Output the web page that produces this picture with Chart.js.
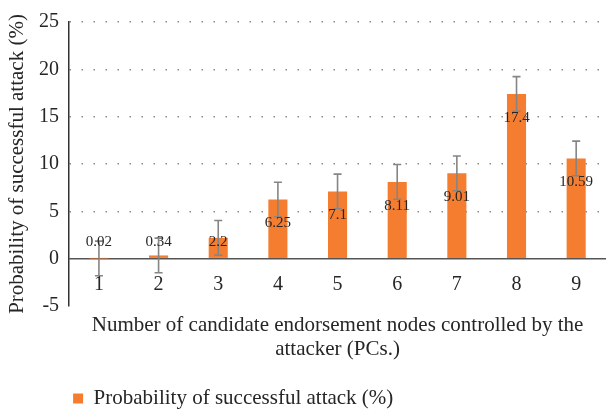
<!DOCTYPE html>
<html>
<head>
<meta charset="utf-8">
<script src="https://cdn.jsdelivr.net/npm/chart.js@4/dist/chart.umd.min.js"></script>
<style>
html,body{margin:0;padding:0;background:#fff;overflow:hidden;}
#wrap{width:606px;height:411px;}
</style>
</head>
<body>
<div id="wrap"><canvas id="c" width="606" height="411"></canvas></div>
<script>
const categories = ['1', '2', '3', '4', '5', '6', '7', '8', '9'];
const probability = [0.02, 0.34, 2.2, 6.25, 7.1, 8.11, 9.01, 17.4, 10.59];
const errorMargins = [1.83, 1.83, 1.83, 1.83, 1.83, 1.83, 1.83, 1.83, 1.83];
const yTicks = [-5, 0, 5, 10, 15, 20, 25];
const seriesName = 'Probability of successful attack (%)';
const xTitle = ['Number of candidate endorsement nodes controlled by the', 'attacker (PCs.)'];
const yTitle = 'Probability of successful attack (%)';

const FONT = "'Liberation Serif', 'DejaVu Serif', serif";
const TEXT = '#262626';
const ORANGE = 'rgb(244,125,48)';

const zeroLine = {
  id: 'zeroLine',
  beforeDatasetsDraw(chart) {
    const {ctx, chartArea, scales} = chart;
    const y = scales.y.getPixelForValue(0);
    ctx.save();
    ctx.strokeStyle = '#555';
    ctx.lineWidth = 1.5;
    ctx.beginPath();
    ctx.moveTo(chartArea.left, y);
    ctx.lineTo(chartArea.right, y);
    ctx.stroke();
    ctx.restore();
  }
};

// category labels sit just below the zero line (Excel style axis crossing at 0)
const categoryLabels = {
  id: 'categoryLabels',
  afterDraw(chart) {
    const {ctx, scales} = chart;
    const y0 = scales.y.getPixelForValue(0);
    ctx.save();
    ctx.fillStyle = TEXT;
    ctx.font = "20px " + FONT;
    ctx.textAlign = 'center';
    ctx.textBaseline = 'middle';
    categories.forEach((c, i) => {
      ctx.fillText(c, scales.x.getPixelForValue(i), y0 + 26);
    });
    ctx.restore();
  }
};

const errorBarsAndLabels = {
  id: 'errorBarsAndLabels',
  afterDatasetsDraw(chart) {
    const {ctx, scales} = chart;
    const meta = chart.getDatasetMeta(0);
    const y0 = scales.y.getPixelForValue(0);
    ctx.save();
    ctx.strokeStyle = '#858585';
    ctx.lineWidth = 1.6;
    meta.data.forEach((bar, i) => {
      const v = probability[i], e = errorMargins[i];
      const yt = scales.y.getPixelForValue(v + e);
      const yb = scales.y.getPixelForValue(v - e);
      ctx.beginPath();
      ctx.moveTo(bar.x, yt); ctx.lineTo(bar.x, yb);
      ctx.moveTo(bar.x - 4, yt); ctx.lineTo(bar.x + 4, yt);
      ctx.moveTo(bar.x - 4, yb); ctx.lineTo(bar.x + 4, yb);
      ctx.stroke();
    });
    ctx.fillStyle = TEXT;
    ctx.font = "15px " + FONT;
    ctx.textAlign = 'center';
    ctx.textBaseline = 'middle';
    meta.data.forEach((bar, i) => {
      const ly = Math.min(bar.y + 24, y0 - 17);
      ctx.fillText(String(probability[i]), bar.x, ly);
    });
    ctx.restore();
  }
};

new Chart(document.getElementById('c'), {
  type: 'bar',
  data: {
    labels: categories,
    datasets: [{
      label: seriesName,
      data: probability,
      backgroundColor: ORANGE,
      borderWidth: 0,
      categoryPercentage: 1,
      barPercentage: 0.32
    }]
  },
  options: {
    responsive: false,
    animation: false,
    layout: { padding: { top: 19, right: 0, bottom: -8, left: 0 } },
    plugins: {
      legend: {
        position: 'bottom',
        align: 'start',
        fullSize: false,
        labels: {
          boxWidth: 10, boxHeight: 10, padding: 4,
          color: TEXT,
          font: { family: FONT, size: 21 }
        }
      },
      tooltip: { enabled: false }
    },
    scales: {
      x: {
        position: 'bottom',
        grid: { display: false, drawTicks: false },
        border: { display: false },
        ticks: { display: false },
        title: {
          display: true, text: xTitle, color: TEXT,
          font: { family: FONT, size: 21, lineHeight: 24/21 },
          padding: { top: 7, bottom: 23 }
        }
      },
      y: {
        min: -5, max: 25,
        afterBuildTicks(scale) { scale.ticks = yTicks.map(v => ({ value: v })); },
        grid: {
          drawTicks: false,
          color: (c) => (c.tick && c.tick.value > 0) ? '#8a8a8a' : 'rgba(0,0,0,0)',
          lineWidth: 1.5
        },
        border: { display: true, color: '#333', width: 1.5, dash: [1.5, 10.5] },
        ticks: { padding: 10, color: TEXT, font: { family: FONT, size: 20 } },
        title: {
          display: true, text: yTitle, color: TEXT,
          font: { family: FONT, size: 21, lineHeight: 1.1 },
          padding: { top: 6, bottom: 0 }
        }
      }
    }
  },
  plugins: [zeroLine, errorBarsAndLabels, categoryLabels]
});
</script>
</body>
</html>
